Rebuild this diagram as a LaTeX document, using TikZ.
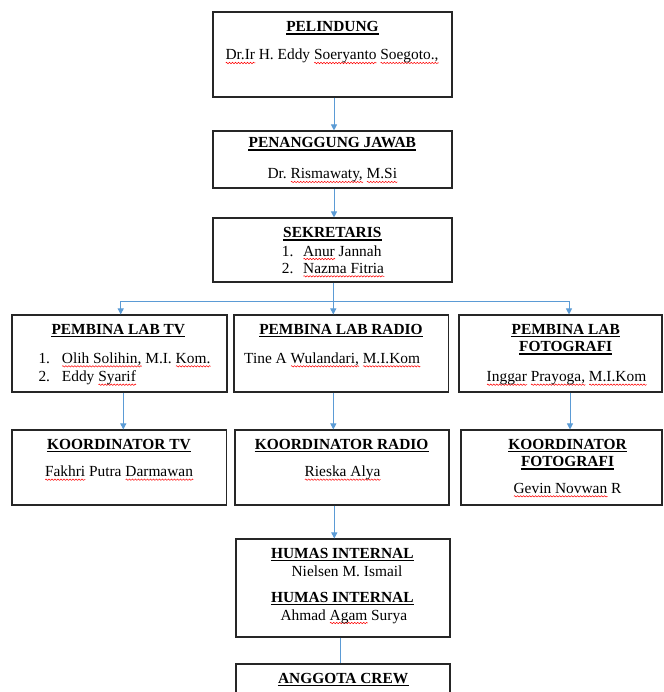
\documentclass[tikz,border=0pt]{standalone}
\usepackage{fontspec}
\setmainfont{Liberation Serif}
\usetikzlibrary{arrows.meta,decorations.pathmorphing}
\definecolor{linkBlue}{HTML}{5B9BD5}
\definecolor{boxStroke}{HTML}{262626}
\frenchspacing
\newlength{\sqwd}
% red spell-check wave under a word
\newcommand{\sq}[1]{\settowidth{\sqwd}{#1}\rlap{\tikz[x=1pt,y=1pt,baseline=0pt]\draw[red,line width=.5pt,decorate,decoration={zigzag,segment length=3pt,amplitude=.7pt}] (0pt,-3pt) -- (\sqwd,-3pt);}#1}

\begin{document}
\begin{tikzpicture}[
  x=1pt,y=-1pt,
  font=\fontsize{15.4}{18}\selectfont,
  box/.style={rectangle,draw=boxStroke,line width=1.1pt,inner sep=0pt},
  ttl/.style={anchor=base,inner sep=0pt,font=\fontsize{15.4}{18}\selectfont\bfseries},
  nm/.style={anchor=base,inner sep=0pt},
  item/.style={anchor=base west,inner sep=0pt},
  ulline/.style={draw=black,line width=1.5pt},
  link/.style={draw=linkBlue,line width=1pt,-{Triangle[length=6pt,width=6pt]}},
  wire/.style={draw=linkBlue,line width=1pt}
]
\useasboundingbox[fill=white] (0,0) rectangle (663,692);
\clip (0,0) rectangle (663,692);
% top of the chart
\node[box,minimum width=239pt,minimum height=85pt] (pelindung) at (332.5,54.5) {};
\node[box,minimum width=239pt,minimum height=57pt] (pj) at (332.5,159.5) {};
\node[box,minimum width=239pt,minimum height=64pt] (sekr) at (332.5,250) {};
% pembina row
\node[box,minimum width=215pt,minimum height=77pt] (pbTv) at (119.5,353.5) {};
\node[box,minimum width=214.5pt,minimum height=77pt] (pbRadio) at (341.25,353.5) {};
\node[box,minimum width=203pt,minimum height=77pt] (pbFoto) at (560.5,353.5) {};
% koordinator row
\node[box,minimum width=214.5pt,minimum height=75pt] (koTv) at (119.25,467.5) {};
\node[box,minimum width=214pt,minimum height=75pt] (koRadio) at (342,467.5) {};
\node[box,minimum width=201pt,minimum height=75pt] (koFoto) at (561.5,467.5) {};
% humas and crew
\node[box,minimum width=214pt,minimum height=98pt] (humas) at (343,588) {};
\node[box,minimum width=214pt,minimum height=46pt] (anggota) at (343,687) {};

\node[ttl] (pelT) at (332.5,31.7) {PELINDUNG};
\node[nm] (pelN) at (332,60) {\sq{Dr.Ir} H. Eddy \sq{Soeryanto} \sq{Soegoto.,}};
\node[ttl] (pjT) at (332.3,147.7) {PENANGGUNG JAWAB};
\node[nm] (pjN) at (332.3,179) {Dr. \sq{Rismawaty,} \sq{M.Si}};
\node[ttl] (sekT) at (332.3,237.7) {SEKRETARIS};
\node[item] (sek1) at (281.7,256) {\makebox[21.3pt][l]{1.}\sq{Anur} Jannah};
\node[item] (sek2) at (281.7,273.3) {\makebox[21.3pt][l]{2.}\sq{Nazma Fitria}};

\node[ttl] (pbTvT) at (118.3,334.3) {PEMBINA LAB TV};
\node[item] (pbTv1) at (38.3,363.3) {\makebox[23.4pt][l]{1.}\sq{Olih Solihin,} M.I. \sq{Kom.}};
\node[item] (pbTv2) at (38.3,381.7) {\makebox[23.4pt][l]{2.}Eddy \sq{Syarif}};
\node[ttl] (pbRadioT) at (341,334.3) {PEMBINA LAB RADIO};
\node[item] (pbRadioN) at (244,363.3) {Tine A \sq{Wulandari,} \sq{M.I.Kom}};
\node[ttl] (pbFotoT1) at (565.7,334.3) {PEMBINA LAB};
\node[ttl] (pbFotoT2) at (565.7,351.7) {FOTOGRAFI};
\node[nm] (pbFotoN) at (566.5,381.7) {\sq{Inggar} \sq{Prayoga,} \sq{M.I.Kom}};

\node[ttl] (koTvT) at (119,449) {KOORDINATOR TV};
\node[nm] (koTvN) at (119,476.7) {\sq{Fakhri} Putra \sq{Darmawan}};
\node[ttl] (koRadioT) at (341.7,449) {KOORDINATOR RADIO};
\node[nm] (koRadioN) at (342.5,476.7) {\sq{Rieska Alya}};
\node[ttl] (koFotoT1) at (567.5,449) {KOORDINATOR};
\node[ttl] (koFotoT2) at (567.5,466.7) {FOTOGRAFI};
\node[nm] (koFotoN) at (567.5,493.3) {\sq{Gevin Novwan} R};

\node[ttl] (humasT1) at (342.3,558.3) {HUMAS INTERNAL};
\node[nm] (humasN1) at (347,576) {Nielsen M. Ismail};
\node[ttl] (humasT2) at (342.3,602.3) {HUMAS INTERNAL};
\node[nm] (humasN2) at (343.8,620) {Ahmad \sq{Agam} Surya};
\node[ttl] (anggotaT) at (343.2,683.3) {ANGGOTA CREW};

% underline every title
\foreach \t in {pelT,pjT,sekT,pbTvT,pbRadioT,pbFotoT1,pbFotoT2,koTvT,koRadioT,koFotoT1,koFotoT2,humasT1,humasT2,anggotaT}
  \draw[ulline] ([yshift=-2.3pt]\t.base west) -- ([yshift=-2.3pt]\t.base east);

% connectors
\draw[link] ([xshift=1.5pt]pelindung.south) -- ([xshift=1.5pt]pj.north);
\draw[link] ([xshift=1.5pt]pj.south) -- ([xshift=1.5pt]sekr.north);
\coordinate (fork) at (333.3,301.7);
\draw[wire] (sekr.south -| fork) -- (fork);
\draw[link] (fork) -| ([xshift=1.2pt]pbTv.north);
\draw[link] (fork) -- (fork |- pbRadio.north);
\draw[link] (fork) -| ([xshift=8.5pt]pbFoto.north);
\draw[link] ([xshift=3.8pt]pbTv.south) -- ([xshift=3.8pt]pbTv.south |- koTv.north);
\draw[link] ([xshift=-7.9pt]pbRadio.south) -- ([xshift=-7.9pt]pbRadio.south |- koRadio.north);
\draw[link] ([xshift=9.5pt]pbFoto.south) -- ([xshift=9.5pt]pbFoto.south |- koFoto.north);
\draw[link] ([xshift=-7.7pt]koRadio.south) -- ([xshift=-7.7pt]koRadio.south |- humas.north);
\draw[wire] ([xshift=-3pt]humas.south) -- ([xshift=-3pt]humas.south |- anggota.north);
\end{tikzpicture}
\end{document}
